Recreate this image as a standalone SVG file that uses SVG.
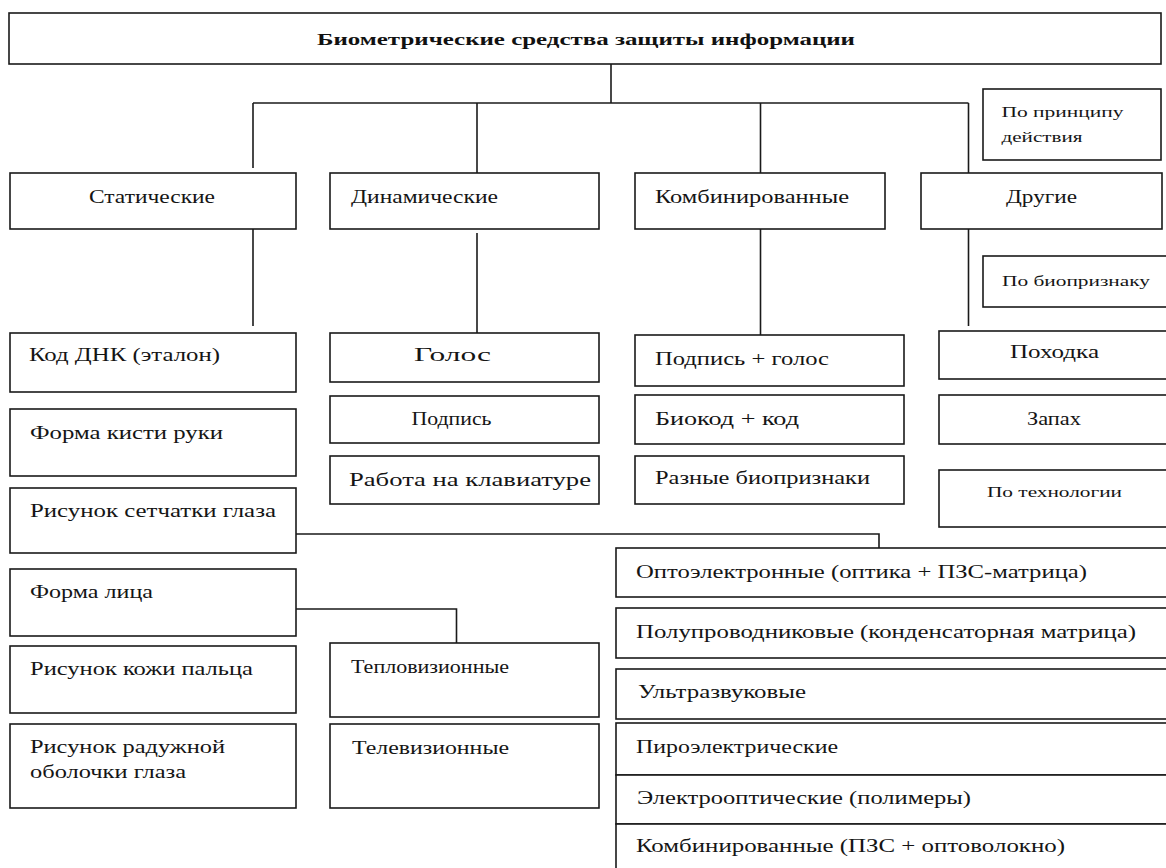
<svg xmlns="http://www.w3.org/2000/svg" width="1166" height="868" viewBox="0 0 1166 868">
  <style>
    .box { fill: #ffffff; stroke: #1a1a1a; stroke-width: 1.6; }
    .lbl { font-family: "Liberation Serif", "Times New Roman", serif; font-size: 18px; fill: #151515; }
    .sm { font-family: "Liberation Serif", "Times New Roman", serif; font-size: 14px; fill: #151515; }
    .ttl { font-family: "Liberation Serif", "Times New Roman", serif; font-size: 17px; font-weight: bold; fill: #111111; }
    .wire { fill: none; stroke: #1a1a1a; stroke-width: 1.6; }
  </style>
  <rect width="1166" height="868" fill="#ffffff"/>

  <!-- connectors -->
  <g id="connectors">
    <path class="wire" d="M611,64 V103"/>
    <path class="wire" d="M253,103 H968.5"/>
    <path class="wire" d="M253,103 V168"/>
    <path class="wire" d="M477,103 V173"/>
    <path class="wire" d="M760.5,103 V173"/>
    <path class="wire" d="M968.5,103 V173"/>
    <path class="wire" d="M253,229 V326"/>
    <path class="wire" d="M477,233 V333"/>
    <path class="wire" d="M760.5,229 V335"/>
    <path class="wire" d="M968.5,229 V326"/>
    <path class="wire" d="M296,534 H879 V548"/>
    <path class="wire" d="M296,609 H456.5 V643"/>
  </g>

  <!-- root -->
  <g id="n-root">
    <rect class="box" x="9" y="13" width="1152" height="51"/>
    <text class="ttl" x="317" y="45" textLength="538" lengthAdjust="spacingAndGlyphs">Биометрические средства защиты информации</text>
  </g>

  <!-- side notes -->
  <g id="n-principle">
    <rect class="box" x="983" y="89" width="178" height="71"/>
    <text class="sm" x="1001.5" y="117" textLength="122" lengthAdjust="spacingAndGlyphs">По принципу</text>
    <text class="sm" x="1001.5" y="142" textLength="81" lengthAdjust="spacingAndGlyphs">действия</text>
  </g>
  <g id="n-biofeature">
    <rect class="box" x="983" y="256" width="190" height="51"/>
    <text class="sm" x="1002" y="286" textLength="148" lengthAdjust="spacingAndGlyphs">По биопризнаку</text>
  </g>
  <g id="n-technology">
    <rect class="box" x="939" y="470" width="233" height="57"/>
    <text class="sm" x="987" y="497" textLength="135" lengthAdjust="spacingAndGlyphs">По технологии</text>
  </g>

  <!-- first level -->
  <g id="n-static">
    <rect class="box" x="10" y="173" width="286" height="56"/>
    <text class="lbl" x="89" y="203" textLength="126" lengthAdjust="spacingAndGlyphs">Статические</text>
  </g>
  <g id="n-dynamic">
    <rect class="box" x="330" y="173" width="269" height="56"/>
    <text class="lbl" x="351" y="203" textLength="147" lengthAdjust="spacingAndGlyphs">Динамические</text>
  </g>
  <g id="n-combined">
    <rect class="box" x="635" y="173" width="250" height="56"/>
    <text class="lbl" x="655" y="203" textLength="194" lengthAdjust="spacingAndGlyphs">Комбинированные</text>
  </g>
  <g id="n-other">
    <rect class="box" x="921" y="173" width="241" height="56"/>
    <text class="lbl" x="1006" y="203" textLength="71" lengthAdjust="spacingAndGlyphs">Другие</text>
  </g>

  <!-- static column -->
  <g id="n-dna">
    <rect class="box" x="10" y="333" width="286" height="59"/>
    <text class="lbl" x="29" y="361" textLength="191" lengthAdjust="spacingAndGlyphs">Код ДНК (эталон)</text>
  </g>
  <g id="n-hand">
    <rect class="box" x="10" y="409" width="286" height="67"/>
    <text class="lbl" x="30" y="439" textLength="193" lengthAdjust="spacingAndGlyphs">Форма кисти руки</text>
  </g>
  <g id="n-retina">
    <rect class="box" x="10" y="488" width="286" height="65"/>
    <text class="lbl" x="30" y="517" textLength="246" lengthAdjust="spacingAndGlyphs">Рисунок сетчатки глаза</text>
  </g>
  <g id="n-face">
    <rect class="box" x="10" y="569" width="286" height="67"/>
    <text class="lbl" x="30" y="598" textLength="123" lengthAdjust="spacingAndGlyphs">Форма лица</text>
  </g>
  <g id="n-finger">
    <rect class="box" x="10" y="646" width="286" height="67"/>
    <text class="lbl" x="30" y="675" textLength="223" lengthAdjust="spacingAndGlyphs">Рисунок кожи пальца</text>
  </g>
  <g id="n-iris">
    <rect class="box" x="10" y="724" width="286" height="84"/>
    <text class="lbl" x="30" y="753" textLength="195" lengthAdjust="spacingAndGlyphs">Рисунок радужной</text>
    <text class="lbl" x="30" y="778" textLength="156" lengthAdjust="spacingAndGlyphs">оболочки глаза</text>
  </g>

  <!-- dynamic column -->
  <g id="n-voice">
    <rect class="box" x="330" y="333" width="269" height="49"/>
    <text class="lbl" x="414" y="361" textLength="77" lengthAdjust="spacingAndGlyphs">Голос</text>
  </g>
  <g id="n-signature">
    <rect class="box" x="330" y="396" width="269" height="47"/>
    <text class="lbl" x="411.5" y="425" textLength="80" lengthAdjust="spacingAndGlyphs">Подпись</text>
  </g>
  <g id="n-keyboard">
    <rect class="box" x="330" y="456" width="269" height="48"/>
    <text class="lbl" x="349" y="486" textLength="242" lengthAdjust="spacingAndGlyphs">Работа на клавиатуре</text>
  </g>
  <g id="n-thermal">
    <rect class="box" x="330" y="643" width="269" height="74"/>
    <text class="lbl" x="351" y="673" textLength="158" lengthAdjust="spacingAndGlyphs">Тепловизионные</text>
  </g>
  <g id="n-tv">
    <rect class="box" x="330" y="724" width="269" height="84"/>
    <text class="lbl" x="352" y="754" textLength="157" lengthAdjust="spacingAndGlyphs">Телевизионные</text>
  </g>

  <!-- combined column -->
  <g id="n-sig-voice">
    <rect class="box" x="635" y="335" width="269" height="51"/>
    <text class="lbl" x="655" y="365" textLength="174" lengthAdjust="spacingAndGlyphs">Подпись + голос</text>
  </g>
  <g id="n-biocode">
    <rect class="box" x="635" y="395" width="269" height="49"/>
    <text class="lbl" x="655" y="425" textLength="144" lengthAdjust="spacingAndGlyphs">Биокод + код</text>
  </g>
  <g id="n-various">
    <rect class="box" x="635" y="456" width="269" height="48"/>
    <text class="lbl" x="655" y="484" textLength="215" lengthAdjust="spacingAndGlyphs">Разные биопризнаки</text>
  </g>

  <!-- other column -->
  <g id="n-gait">
    <rect class="box" x="939" y="331" width="233" height="48"/>
    <text class="lbl" x="1010" y="358" textLength="89" lengthAdjust="spacingAndGlyphs">Походка</text>
  </g>
  <g id="n-smell">
    <rect class="box" x="939" y="395" width="233" height="49"/>
    <text class="lbl" x="1027" y="425" textLength="54" lengthAdjust="spacingAndGlyphs">Запах</text>
  </g>

  <!-- sensor technologies -->
  <g id="n-opto">
    <rect class="box" x="616" y="548" width="556" height="49"/>
    <text class="lbl" x="636" y="578" textLength="451" lengthAdjust="spacingAndGlyphs">Оптоэлектронные (оптика + ПЗС-матрица)</text>
  </g>
  <g id="n-semi">
    <rect class="box" x="616" y="608" width="556" height="50"/>
    <text class="lbl" x="636" y="638" textLength="500" lengthAdjust="spacingAndGlyphs">Полупроводниковые (конденсаторная матрица)</text>
  </g>
  <g id="n-ultra">
    <rect class="box" x="616" y="669" width="556" height="50"/>
    <text class="lbl" x="638" y="698" textLength="168" lengthAdjust="spacingAndGlyphs">Ультразвуковые</text>
  </g>
  <g id="n-pyro">
    <rect class="box" x="616" y="723" width="556" height="52"/>
    <text class="lbl" x="636" y="753" textLength="202" lengthAdjust="spacingAndGlyphs">Пироэлектрические</text>
  </g>
  <g id="n-eo">
    <rect class="box" x="616" y="775" width="556" height="49"/>
    <text class="lbl" x="637" y="804" textLength="334" lengthAdjust="spacingAndGlyphs">Электрооптические (полимеры)</text>
  </g>
  <g id="n-combo-sensor">
    <rect class="box" x="616" y="824" width="556" height="50"/>
    <text class="lbl" x="636" y="852" textLength="429" lengthAdjust="spacingAndGlyphs">Комбинированные (ПЗС + оптоволокно)</text>
  </g>
</svg>
